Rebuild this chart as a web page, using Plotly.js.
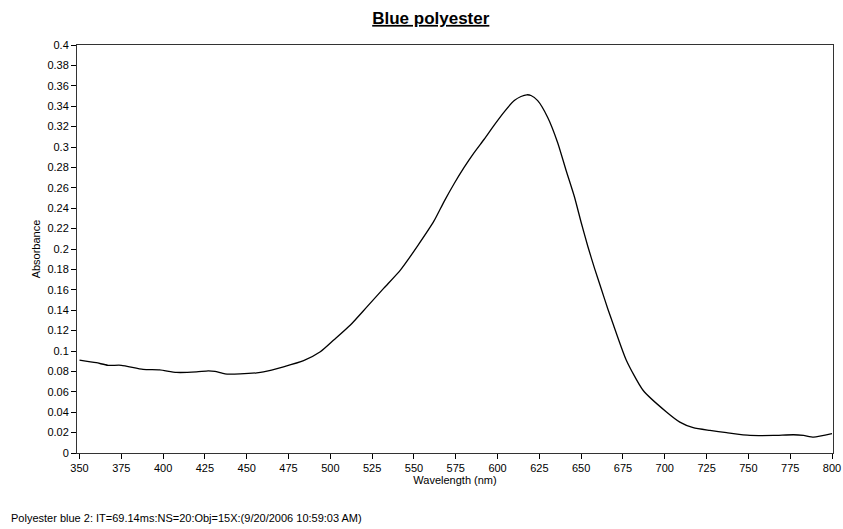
<!DOCTYPE html>
<html>
<head>
<meta charset="utf-8">
<script src="https://cdn.plot.ly/plotly-3.0.1.min.js"></script>
<style>html,body{margin:0;padding:0;background:#fff;}#chart{width:843px;height:529px;}</style>
</head>
<body>
<div id="chart"></div>
<script>
const wavelength = [350,360,367,375,388,398,408,420,427,431,437,446,456,460,472,484,494,502,512,522,532,542,552,562,568,574,580,586,592,598,604,610,614,617.5,620,624,630,636,641,646,650,654,658,662,666,669,677,687,701,709,717,727,737,751,765,777,783,789,800];
const absorbance = [0.091,0.0885,0.086,0.086,0.082,0.0815,0.079,0.0795,0.0805,0.080,0.0776,0.0776,0.0786,0.0795,0.0845,0.0905,0.0992,0.1107,0.1255,0.1435,0.1616,0.1796,0.2026,0.2275,0.2465,0.264,0.280,0.2945,0.3076,0.3215,0.3345,0.3455,0.3495,0.3512,0.3505,0.3455,0.329,0.304,0.277,0.251,0.226,0.2025,0.181,0.161,0.141,0.127,0.091,0.0615,0.0402,0.0303,0.0248,0.0221,0.0199,0.0172,0.0172,0.0179,0.0172,0.0156,0.0189];
const xTicks = [350,375,400,425,450,475,500,525,550,575,600,625,650,675,700,725,750,775,800];
const yTicks = [0,0.02,0.04,0.06,0.08,0.1,0.12,0.14,0.16,0.18,0.2,0.22,0.24,0.26,0.28,0.3,0.32,0.34,0.36,0.38,0.4];
const chartTitle = "Blue polyester";
const footer = "Polyester blue 2: IT=69.14ms:NS=20:Obj=15X:(9/20/2006 10:59:03 AM)";

const font = {family: "Arial, 'Liberation Sans', sans-serif", color: "#000"};

Plotly.newPlot("chart", [{
  x: wavelength, y: absorbance, type: "scatter", mode: "lines",
  line: {color: "#000", width: 1.3, shape: "spline", smoothing: 0.6},
  hoverinfo: "skip"
}], {
  width: 843, height: 529,
  margin: {l: 77, r: 10, t: 45, b: 76},
  paper_bgcolor: "#fff", plot_bgcolor: "#fff",
  showlegend: false,
  title: {text: chartTitle, xref: "container", x: 0.511, xanchor: "center", yref: "container", y: 0.966, yanchor: "middle",
    font: {family: font.family, size: 17, color: "#000", weight: "bold", lineposition: "under"}},
  xaxis: {
    range: [348.5, 800.6], tickvals: xTicks, ticktext: xTicks.map(String),
    ticks: "outside", ticklen: 5, tickcolor: "#000", tickwidth: 1,
    showline: true, linecolor: "#333", linewidth: 1, mirror: true,
    showgrid: false, zeroline: false,
    tickfont: {family: font.family, size: 11, color: "#000"},
    title: {text: "Wavelength (nm)", standoff: 2, font: {family: font.family, size: 11, color: "#000"}}
  },
  yaxis: {
    range: [0, 0.4], tickvals: yTicks, ticktext: yTicks.map(v => String(+v.toFixed(2))),
    ticks: "outside", ticklen: 5, tickcolor: "#000", tickwidth: 1,
    showline: true, linecolor: "#333", linewidth: 1, mirror: true,
    showgrid: false, zeroline: false,
    tickfont: {family: font.family, size: 11, color: "#000"},
    title: {text: "Absorbance", standoff: 4, font: {family: font.family, size: 11, color: "#000"}}
  },
  annotations: [{
    text: footer, xref: "paper", yref: "paper", x: 0, y: 0, xshift: -68, yshift: -65,
    xanchor: "left", yanchor: "middle", showarrow: false,
    font: {family: font.family, size: 11, color: "#000"}
  }]
}, {displayModeBar: false, staticPlot: true});
</script>
</body>
</html>
